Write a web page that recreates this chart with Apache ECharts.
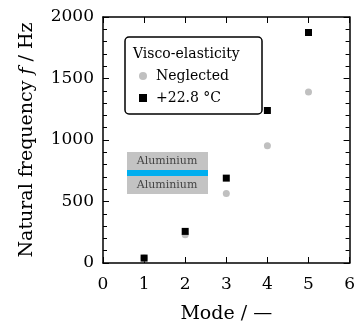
<!DOCTYPE html>
<html>
<head>
<meta charset="utf-8">
<script src="https://cdn.jsdelivr.net/npm/echarts@6/dist/echarts.min.js"></script>
<style>
  html, body { margin: 0; padding: 0; background: #fff; }
  #chart { width: 358px; height: 329px; }
</style>
</head>
<body>
<div id="chart"></div>
<script>
// data
var modes = [1, 2, 3, 4, 5];
var neglected = [40, 230, 565, 953, 1390];
var visco228 = [40, 257, 690, 1240, 1874];
var xTicks = [0, 6, 1];
var yTicks = [0, 2000, 500];

var serif = 'DejaVu Serif';
var chart = echarts.init(document.getElementById('chart'));

function pairs(ys) {
  return modes.map(function (m, i) { return [m, ys[i]]; });
}

function axisBase(show) {
  return {
    axisLine: { show: true, onZero: false, lineStyle: { color: '#000', width: 1.5 } },
    axisTick: { show: true, inside: true, length: 6, lineStyle: { color: '#000', width: 1 } },
    axisLabel: { show: show, color: '#000', fontFamily: serif, fontSize: 17, margin: 13,
      formatter: function (v) { return String(v); } },
    splitLine: { show: false }
  };
}

var xb = axisBase(true);
var xt = axisBase(false);
var yl = axisBase(true);
var yr = axisBase(false);
yl.axisLabel.margin = 9;
[yl, yr].forEach(function (a) {
  a.minorTick = { show: true, splitNumber: 5, length: 4, lineStyle: { color: '#000', width: 1 } };
});

var nameStyle = {
  color: '#000', fontFamily: serif, fontSize: 19,
  rich: { i: { fontFamily: serif, fontStyle: 'italic', fontSize: 19, color: '#000' } }
};

var option = {
  animation: false,
  grid: { left: 103, right: 5, top: 17, bottom: 63 },
  xAxis: [
    Object.assign({ type: 'value', position: 'bottom', min: xTicks[0], max: xTicks[1], interval: xTicks[2],
      name: 'Mode / \u2014', nameLocation: 'middle', nameGap: 42, nameTextStyle: nameStyle }, xb),
    Object.assign({ type: 'value', position: 'top', min: xTicks[0], max: xTicks[1], interval: xTicks[2] }, xt)
  ],
  yAxis: [
    Object.assign({ type: 'value', position: 'left', min: yTicks[0], max: yTicks[1], interval: yTicks[2],
      name: 'Natural frequency {i|f} / Hz', nameLocation: 'middle', nameGap: 66, nameTextStyle: nameStyle }, yl),
    Object.assign({ type: 'value', position: 'right', min: yTicks[0], max: yTicks[1], interval: yTicks[2] }, yr)
  ],
  legend: {
    orient: 'vertical', left: 134, top: 64, itemGap: 8,
    itemWidth: 8, itemHeight: 8,
    textStyle: { color: '#000', fontFamily: serif, fontSize: 14, padding: [0, 0, 0, 4] },
    data: [
      { name: 'Neglected', icon: 'circle' },
      { name: '+22.8 \u00b0C', icon: 'rect' }
    ]
  },
  graphic: [
    { type: 'rect', shape: { x: 125, y: 37, width: 137, height: 77, r: 4 },
      style: { fill: '#fff', stroke: '#000', lineWidth: 1.5 }, z: 1 },
    { type: 'text', left: 133, top: 47, z: 2,
      style: { text: 'Visco-elasticity', fill: '#000', font: '14px "DejaVu Serif"' } },
    { type: 'rect', shape: { x: 127, y: 152, width: 81, height: 42 }, style: { fill: '#c3c3c3' }, z: 1 },
    { type: 'rect', shape: { x: 127, y: 170, width: 81, height: 6 }, style: { fill: '#00aeef' }, z: 2 },
    { type: 'text', x: 167, y: 161, z: 3,
      style: { text: 'Aluminium', fill: '#444', font: '11px "DejaVu Serif"', align: 'center', verticalAlign: 'middle' } },
    { type: 'text', x: 167, y: 185, z: 3,
      style: { text: 'Aluminium', fill: '#444', font: '11px "DejaVu Serif"', align: 'center', verticalAlign: 'middle' } }
  ],
  series: [
    { name: 'Neglected', type: 'scatter', symbol: 'circle', symbolSize: 7,
      itemStyle: { color: '#c0c0c0', opacity: 1 }, data: pairs(neglected), z: 3 },
    { name: '+22.8 \u00b0C', type: 'scatter', symbol: 'rect', symbolSize: 7,
      itemStyle: { color: '#000', opacity: 1 }, data: pairs(visco228), z: 4 }
  ]
};

chart.setOption(option);
</script>
</body>
</html>
